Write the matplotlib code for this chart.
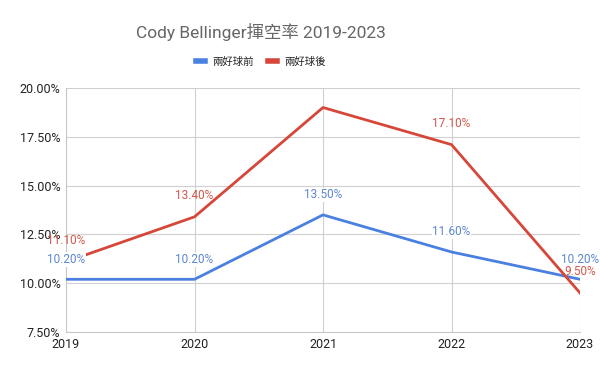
import matplotlib
matplotlib.use("Agg")
import matplotlib.pyplot as plt
from matplotlib.ticker import FuncFormatter
from matplotlib.lines import Line2D

plt.rcParams['font.family'] = ['Roboto', 'Noto Sans CJK TC', 'DejaVu Sans']

years = ["2019", "2020", "2021", "2022", "2023"]
before = [10.20, 10.20, 13.50, 11.60, 10.20]
after = [11.10, 13.40, 19.00, 17.10, 9.50]
after_labels = ["11.10%", "13.40%", None, "17.10%", "9.50%"]
before_labels = ["10.20%", "10.20%", "13.50%", "11.60%", "10.20%"]
yticks = [7.5, 10.0, 12.5, 15.0, 17.5, 20.0]

blue = "#4a80e0"
red = "#d6473a"

fig = plt.figure(figsize=(6, 3.71), dpi=100)
ax = fig.add_axes([66/600, 1-332/371, (580-66)/600, (332-88)/371])

x = list(range(len(years)))
ax.plot(x, before, color=blue, lw=2, zorder=3)
ax.plot(x, after, color=red, lw=2, zorder=3)

bbox = dict(facecolor="white", edgecolor="none", pad=0.5)
for xi, v, lab in zip(x, before, before_labels):
    if lab:
        ax.annotate(lab, (xi, v), xytext=(0, 20), textcoords="offset pixels",
                    ha="center", va="center", fontsize=8.5, color="#5b87cc",
                    zorder=4, bbox=bbox, annotation_clip=False)
for xi, v, lab in zip(x, after, after_labels):
    if lab:
        ax.annotate(lab, (xi, v), xytext=(0, 21), textcoords="offset pixels",
                    ha="center", va="center", fontsize=8.5, color="#d0574a",
                    zorder=5, annotation_clip=False)

ax.set_xlim(0, 4)
ax.set_ylim(7.5, 20.0)
ax.set_xticks(x)
ax.set_xticklabels(years)
ax.set_yticks(yticks)
ax.yaxis.set_major_formatter(FuncFormatter(lambda v, p: f"{v:.2f}%"))
ax.grid(True, color="#d0d0d0", lw=0.8)
ax.set_axisbelow(True)
for s in ["top", "right"]:
    ax.spines[s].set_visible(False)
for s in ["left", "bottom"]:
    ax.spines[s].set_color("#c8c8c8")
ax.tick_params(length=0, labelsize=9, colors="#222222", pad=4)

cx = 261/600
fig.text(cx, 1-32/371, "Cody Bellinger揮空率 2019-2023", ha="center", va="center",
         fontsize=12.5, color="#666666")

handles = [Line2D([0], [0], color=blue, lw=4), Line2D([0], [0], color=red, lw=4)]
fig.legend(handles, ["兩好球前", "兩好球後"], loc="center", bbox_to_anchor=(cx, 1-62/371),
           ncol=2, frameon=False, fontsize=7.5, handlelength=0.9, columnspacing=1.3,
           handletextpad=0.7, labelcolor="#222222")

fig.savefig("out.png", dpi=100)
